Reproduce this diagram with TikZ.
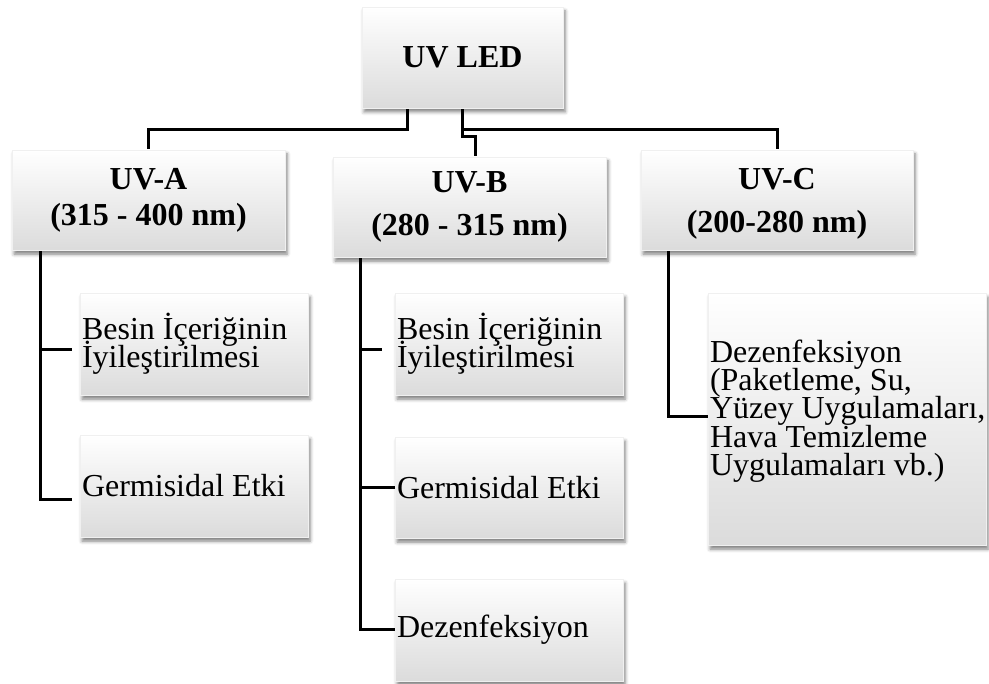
\documentclass[tikz,border=0pt]{standalone}
\usepackage{fontspec}
\setmainfont{Liberation Serif}
\usetikzlibrary{shadows.blur}
\pgfdeclarelayer{bg}
\pgfsetlayers{bg,main}
\newcommand\mytightlines{\lineskiplimit -100pt\relax}
\begin{document}
\begin{tikzpicture}[x=1pt,y=-1pt,
  boxstyle/.style={draw=black!6, line width=0.4pt, top color=white, middle color=white, bottom color=black!14,
    blur shadow={shadow xshift=2pt, shadow yshift=-4pt, shadow blur radius=3.5pt, shadow opacity=50},
    inner sep=0pt, outer sep=0pt, anchor=north west},
  head/.style={boxstyle, font={\fontsize{32}{36}\selectfont\bfseries\mytightlines}, align=center},
  leaf/.style={anchor=west, inner xsep=2pt, inner ysep=0pt, outer sep=0pt, font={\fontsize{32}{28.3}\selectfont\mytightlines}, align=left},
  conn/.style={line width=3pt, draw=black}
]
\useasboundingbox (0,0) rectangle (989,684);

% header boxes
\node[head, minimum width=201pt, minimum height=101pt] (led) at (362,7) {UV LED};
\node[head, minimum width=273pt, minimum height=100pt] (uva) at (12,150) {UV-A\\(315 - 400 nm)};
\node[head, minimum width=273pt, minimum height=100pt] (uvb) at (333,157) {UV-B\\[7pt](280 - 315 nm)};
\node[head, minimum width=272pt, minimum height=100pt] (uvc) at (641,150) {\rule{0pt}{29.6pt}UV-C\\[7pt](200-280 nm)};

% leaf boxes
\node[boxstyle, minimum width=228pt, minimum height=102pt] (a1) at (80,293) {};
\node[boxstyle, minimum width=228pt, minimum height=102pt] (a2) at (80,435) {};
\node[boxstyle, minimum width=228pt, minimum height=102pt] (b1) at (395,293) {};
\node[boxstyle, minimum width=228pt, minimum height=101pt] (b2) at (395,437) {};
\node[boxstyle, minimum width=228pt, minimum height=102pt] (b3) at (395,579) {};
\node[boxstyle, minimum width=278pt, minimum height=252pt] (c1) at (708,293) {};

% leaf texts
\node[leaf] (a1t) at (a1.west) {Besin İçeriğinin\\İyileştirilmesi};
\node[leaf] (a2t) at (a2.west) {Germisidal Etki};
\node[leaf] (b1t) at (b1.west) {Besin İçeriğinin\\İyileştirilmesi};
\node[leaf] (b2t) at (b2.west) {Germisidal Etki};
\node[leaf] (b3t) at (b3.west) {Dezenfeksiyon};
\node[leaf, yshift=8pt] (c1t) at (c1.west) {Dezenfeksiyon\\(Paketleme, Su,\\Yüzey Uygulamaları,\\Hava Temizleme\\Uygulamaları vb.)};

\coordinate (av) at ([xshift=28pt]uva.south west);
\coordinate (bv) at ([xshift=27pt]uvb.south west);
\coordinate (cv) at ([xshift=27pt]uvc.south west);

\begin{pgfonlayer}{bg}
\draw[conn] ([xshift=-55pt]led.south) -- ++(0,22) -| (uva.north);
\draw[conn] (led.south) -- ++(0,22) -| (uvc.north);
\draw[conn] (led.south) -- ++(0,29) -| ([xshift=6pt]uvb.north);

\draw[conn, shorten >=8pt] (av) |- ([yshift=-6pt]a1.west);
\draw[conn, shorten >=8pt] (av) |- ([yshift=-14pt]a2.west);

\draw[conn, shorten >=13pt] (bv) |- ([yshift=-6pt]b1.west);
\draw[conn] (bv) |- (b2.west);
\draw[conn] (bv) |- (b3.west);

\draw[conn] (cv) |- ([yshift=2pt]c1.west);
\end{pgfonlayer}
\end{tikzpicture}
\end{document}
